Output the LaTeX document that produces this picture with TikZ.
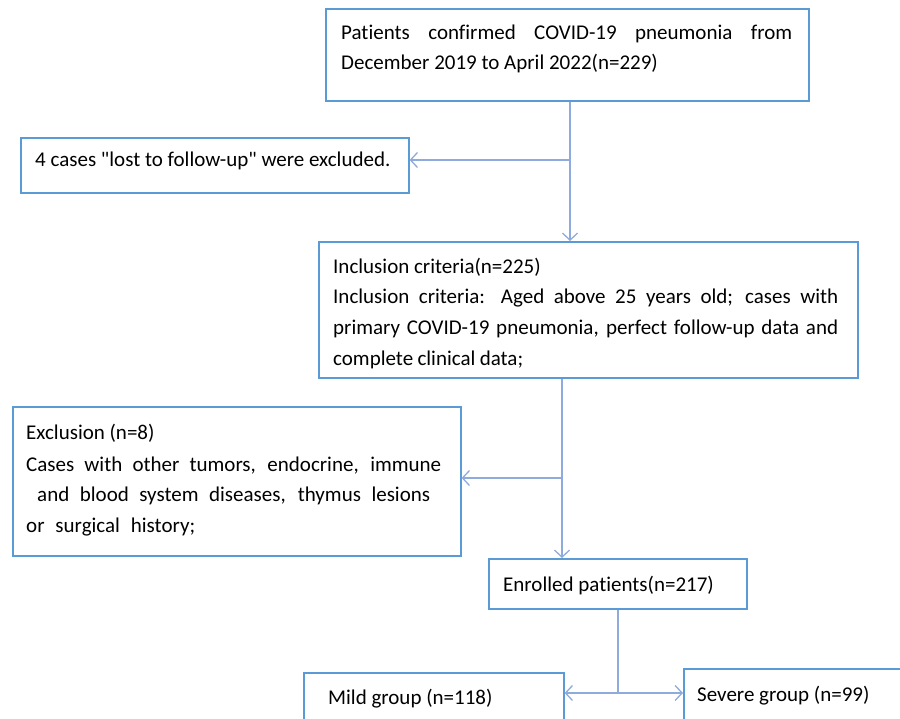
\documentclass[tikz,border=0pt]{standalone}
\usepackage{fontspec}
\setmainfont{Carlito}[Ligatures=NoCommon]
\usetikzlibrary{arrows.meta}
\definecolor{boxblue}{HTML}{5B9BD5}
\definecolor{lineblue}{HTML}{8FAADC}
\tikzset{
  box/.style={draw=boxblue,line width=1.6pt,rectangle,inner sep=0pt,anchor=north west},
  txt/.style={anchor=base west,inner sep=0pt,font=\fontsize{21}{25}\selectfont},
  conn/.style={draw=lineblue,line width=1.3pt},
  arr/.style={conn,-{Straight Barb[length=7pt,width=15pt,line width=1.3pt]}}
}
\newcommand{\jline}[2]{\makebox[#1][s]{#2}}
\newcommand{\dq}{\XeTeXglyph\XeTeXcharglyph"0022\relax}
\begin{document}
\begin{tikzpicture}[x=1pt,y=-1pt]
\useasboundingbox (0,0) rectangle (900,719);
% boxes
\node[box,minimum width=483pt,minimum height=92pt] (top) at (325,8) {};
\node[box,minimum width=388pt,minimum height=55pt] (lost) at (20,137) {};
\node[box,minimum width=539pt,minimum height=136pt] (incl) at (318,241) {};
\node[box,minimum width=448pt,minimum height=149pt] (excl) at (12,406) {};
\node[box,minimum width=258pt,minimum height=50pt] (enr) at (488,558) {};
\node[box,minimum width=260pt,minimum height=60pt] (mild) at (303,672) {};
\node[box,minimum width=230pt,minimum height=60pt] (sev) at (683,668) {};
% texts
\node[txt] (t1a) at (341,40) {\jline{451pt}{Patients confirmed COVID-19 pneumonia from}};
\node[txt] (t1b) at (341,70) {December 2019 to April 2022(n=229)};
\node[txt] (t2) at (35,167) {4 cases \dq lost to follow-up\dq{} were excluded.};
\node[txt] (t3a) at (333,274) {Inclusion criteria(n=225)};
\node[txt] (t3b) at (333,304) {\jline{505pt}{Inclusion criteria: Aged above 25 years old; cases with}};
\node[txt] (t3c) at (333,335) {\jline{505pt}{primary COVID-19 pneumonia, perfect follow-up data and}};
\node[txt] (t3d) at (333,366) {\jline{190pt}{complete clinical data;}};
\node[txt] (t4a) at (26,439) {Exclusion (n=8)};
\node[txt] (t4b) at (26,471) {\jline{415pt}{Cases with other tumors, endocrine, immune}};
\node[txt] (t4c) at (37,501) {\jline{393pt}{and blood system diseases, thymus lesions}};
\node[txt] (t4d) at (26,532) {\jline{169pt}{or surgical history;}};
\node[txt] (t5) at (503,591) {Enrolled patients(n=217)};
\node[txt] (t6) at (328,704) {Mild group (n=118)};
\node[txt] (t7) at (697,701) {Severe group (n=99)};
% junctions
\coordinate (j1) at (570,160);
\coordinate (j2) at (562,478);
\coordinate (j3) at (618,693);
% connectors
\draw[arr] (top.south -| j1) -- (incl.north -| j1);
\draw[arr] (j1) -- (lost.east |- j1);
\draw[arr] (incl.south -| j2) -- (enr.north -| j2);
\draw[arr] (j2) -- (excl.east |- j2);
\draw[conn] (enr.south -| j3) -- (j3);
\draw[arr] (j3) -- (mild.east |- j3);
\draw[arr] (j3) -- (sev.west |- j3);
\end{tikzpicture}
\end{document}
